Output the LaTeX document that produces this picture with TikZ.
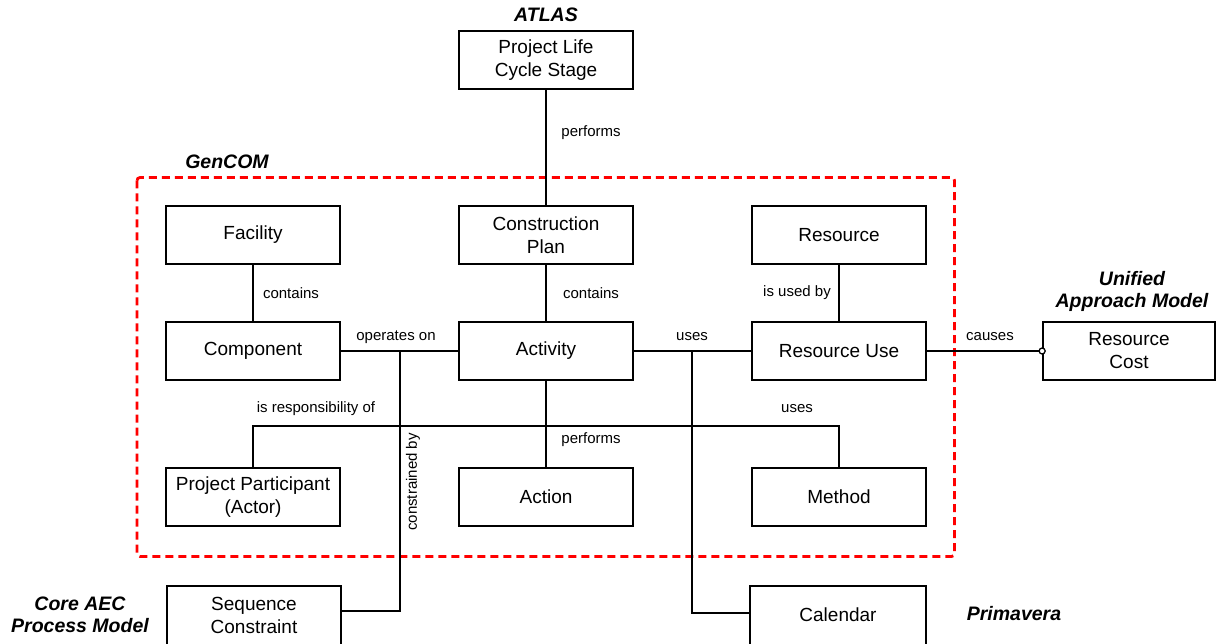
\documentclass[tikz,border=0pt]{standalone}
\usepackage{fontspec}
\setmainfont{Liberation Sans}
\begin{document}
\begin{tikzpicture}[x=1pt,y=-1pt,
  box/.style={draw,line width=1.7pt,minimum width=174pt,minimum height=58pt,inner sep=0pt,align=center,font=\fontsize{19}{23}\selectfont},
  boxtext/.style={inner sep=0pt,align=center,font=\fontsize{19}{23}\selectfont},
  conn/.style={line width=1.4pt},
  lab/.style={font=\fontsize{15}{18}\selectfont,inner sep=0pt},
  ttl/.style={font=\fontsize{19.5}{22}\selectfont\bfseries\itshape,align=center,inner sep=0pt}]
\useasboundingbox (0,0) rectangle (1216,644);
\clip (0,0) rectangle (1216,644);
\fill[white] (0,0) rectangle (1216,644);
% GenCOM frame
\draw[red,line width=2.8pt,dash pattern=on 8pt off 5pt,rounded corners=3pt] (137,177.5) rectangle (954.5,556.5);
% boxes
\node[box] (plcs) at (546,60) {Project Life\\Cycle Stage};
\node[box] (fac) at (253,235) {Facility};
\node[box] (cp) at (546,235) {Construction\\Plan};
\node[box] (res) at (839,235) {Resource};
\node[box] (comp) at (253,351) {Component};
\node[box] (act) at (546,351) {Activity};
\node[box] (ru) at (839,351) {Resource Use};
\node[box] (pp) at (253,497) {Project Participant\\(Actor)};
\node[box] (action) at (546,497) {Action};
\node[box] (meth) at (839,497) {Method};
\node[box,minimum width=172pt] (rc) at (1129,351) {Resource\\Cost};
\node[box,minimum height=64pt] (seq) at (254,618) {};
\node[boxtext] (seqt) at (254,615) {Sequence\\Constraint};
\node[box,minimum width=176pt,minimum height=64pt] (cal) at (838,618) {};
\node[boxtext] (calt) at (838,615) {Calendar};
% connectors
\draw[conn] (plcs) -- (cp);
\draw[conn] (fac) -- (comp);
\draw[conn] (cp) -- (act);
\draw[conn] (res) -- (ru);
\draw[conn] (comp) -- (act);
\draw[conn] (act) -- (ru);
\coordinate (opj) at (400,351);
\coordinate (usj) at (692,351);
\draw[conn] (opj) |- (seq.east |- 0,611);
\draw[conn] (usj) |- (cal.west |- 0,613);
\coordinate (bus) at (546,426);
\draw[line width=2.8pt] (act.south) -- (bus);
\draw[conn] (pp.north) |- (bus) -| (meth.north);
\draw[conn] (bus) -- (action.north);
\draw[conn] (ru.east) -- (rc.west);
\draw[line width=1.3pt,fill=white] (rc.west) circle (3pt);
% connector labels
\node[lab] at (591,133) {performs};
\node[lab] at (291,293) {contains};
\node[lab] at (591,293) {contains};
\node[lab] at (797,293) {is used by};
\node[lab] at (396,337) {operates on};
\node[lab] at (692,337) {uses};
\node[lab] at (990,337) {causes};
\node[lab] at (316,409) {is responsibility of};
\node[lab] at (797,409) {uses};
\node[lab] at (591,440) {performs};
\node[lab,rotate=90] at (413,482) {constrained by};
% model titles
\node[ttl] at (546,15) {ATLAS};
\node[ttl] at (227,162) {GenCOM};
\node[ttl] at (1132,291) {Unified\\Approach Model};
\node[ttl] at (80,615) {Core AEC\\Process Model};
\node[ttl] at (1014,614) {Primavera};
\end{tikzpicture}
\end{document}
